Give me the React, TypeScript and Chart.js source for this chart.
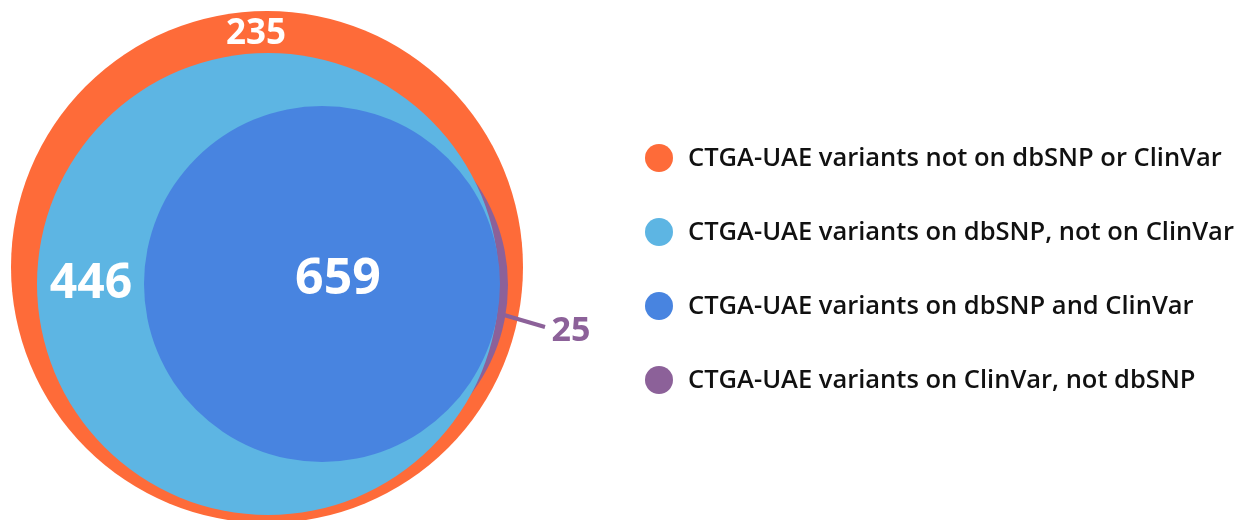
import React, { useEffect, useRef } from "react";
import { Chart, registerables } from "chart.js";

Chart.register(...registerables);

// ---- data ----
const setLabels = [
  "CTGA-UAE variants not on dbSNP or ClinVar",
  "CTGA-UAE variants on dbSNP, not on ClinVar",
  "CTGA-UAE variants on dbSNP and ClinVar",
  "CTGA-UAE variants on ClinVar, not dbSNP",
];
const setCounts = [235, 446, 659, 25];

// ---- styles ----
const setColors = ["#FE6B39", "#5DB5E3", "#4884E0", "#8C6199"];
const drawOrder = [4, 2, 1, 3];

// ---- layout (in chart units) ----
const circleCX = [267, 268, 322, 329];
const circleCY = [267, 284, 284, 285];
const circleR = [256, 231, 178, 179];
const labelX = [256, 91, 338, 571];
const labelY = [34, 284, 280, 331];
const labelSize = [35, 48, 50, 34];
const labelColor = ["#ffffff", "#ffffff", "#ffffff", "#8C6199"];
const leader = { x1: 504, y1: 315, x2: 545, y2: 327 };

const FONT = "'Open Sans', 'Noto Sans', sans-serif";

const overlayPlugin = {
  id: "vennOverlay",
  afterDatasetsDraw(chart: any) {
    const { ctx, scales } = chart;
    const sx = scales.x;
    const sy = scales.y;
    ctx.save();
    // leader line
    ctx.strokeStyle = setColors[3];
    ctx.lineWidth = 4;
    ctx.lineCap = "butt";
    ctx.beginPath();
    ctx.moveTo(sx.getPixelForValue(leader.x1), sy.getPixelForValue(leader.y1));
    ctx.lineTo(sx.getPixelForValue(leader.x2), sy.getPixelForValue(leader.y2));
    ctx.stroke();
    // count labels
    ctx.textAlign = "center";
    ctx.textBaseline = "middle";
    setCounts.forEach((v, i) => {
      ctx.font = `700 ${labelSize[i]}px ${FONT}`;
      ctx.fillStyle = labelColor[i];
      ctx.fillText(String(v), sx.getPixelForValue(labelX[i]), sy.getPixelForValue(labelY[i]));
    });
    ctx.restore();
  },
  afterDraw(chart: any) {
    const { ctx } = chart;
    const left = chart.chartArea.right + 45;
    const top = 158;
    const step = 74;
    ctx.save();
    ctx.textAlign = "left";
    ctx.textBaseline = "middle";
    ctx.font = `600 25.5px ${FONT}`;
    chart.data.datasets.forEach((ds: any, i: number) => {
      const y = top + i * step;
      ctx.fillStyle = ds.backgroundColor;
      ctx.beginPath();
      ctx.arc(left + 14, y, 14, 0, Math.PI * 2);
      ctx.fill();
      ctx.fillStyle = "#111111";
      ctx.fillText(ds.label, left + 43, y + 1);
    });
    ctx.restore();
  },
};

export default function App() {
  const ref = useRef<HTMLCanvasElement | null>(null);
  useEffect(() => {
    if (!ref.current) return;
    const pxRadius = (i: number) => (c: any) => {
      const s = c.chart.scales.x;
      return Math.abs(s.getPixelForValue(circleR[i]) - s.getPixelForValue(0));
    };
    const datasets = setLabels.map((label, i) => ({
      label,
      data: [{ x: circleCX[i], y: circleCY[i] }],
      backgroundColor: setColors[i],
      borderWidth: 0,
      order: drawOrder[i],
      clip: false as any,
      pointRadius: pxRadius(i),
      pointHoverRadius: pxRadius(i),
    }));
    const chart = new Chart(ref.current, {
      type: "scatter",
      data: { datasets },
      options: {
        animation: false,
        responsive: false,
        devicePixelRatio: 1,
        events: [],
        layout: { padding: { left: 0, right: 637, top: 0, bottom: 0 } },
        scales: {
          x: { type: "linear", min: 0, max: 600, display: false },
          y: { type: "linear", min: 0, max: 520, reverse: true, display: false },
        },
        plugins: { legend: { display: false }, tooltip: { enabled: false } },
      },
      plugins: [overlayPlugin],
    } as any);
    return () => chart.destroy();
  }, []);
  return (
    <div style={{ position: "absolute", left: 0, top: 0, width: 1237, height: 520, background: "#fff" }}>
      <canvas ref={ref} width={1237} height={520} style={{ display: "block" }} />
    </div>
  );
}
